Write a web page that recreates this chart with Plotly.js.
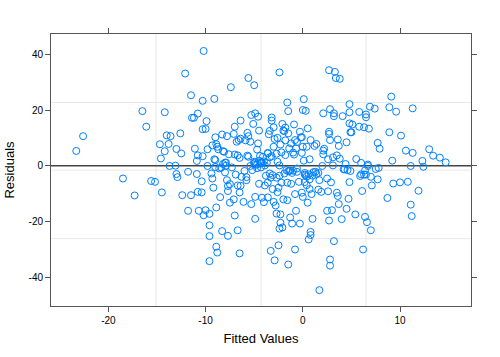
<!DOCTYPE html>
<html>
<head>
<meta charset="utf-8">
<script src="https://cdn.plot.ly/plotly-3.0.1.min.js"></script>
<style>html,body{margin:0;padding:0;background:#fff;}#chart{width:500px;height:357px;}</style>
</head>
<body>
<div id="chart"></div>
<script>
// Fitted values (x) and residuals (y)
const fitted = [
-23.3,-22.6,-18.5,-17.3,-16.5,-16.1,-15.6,-15.2,-14.7,-14.6,-14.5,-14.2,-14.2,-14.0,-13.8,-13.7,-13.6,-13.1,-13.0,-12.9,
-13.0,-12.6,-12.5,-12.4,-12.1,-11.8,-11.8,-11.5,-11.5,-11.4,-11.2,-11.1,-10.9,-10.9,-10.8,-10.8,-10.8,-10.7,-10.4,-10.4,
-10.3,-10.3,-10.3,-10.2,-10.2,-10.0,-10.0,-9.9,-9.8,-9.8,-9.6,-9.6,-9.6,-9.6,-9.4,-9.3,-9.3,-9.2,-9.1,-9.1,
-9.0,-9.0,-9.0,-8.9,-8.9,-8.9,-8.8,-8.8,-8.7,-8.6,-8.5,-8.4,-8.3,-8.3,-8.2,-8.2,-8.1,-8.0,-8.0,-7.9,
-7.9,-7.8,-7.8,-7.7,-7.7,-7.7,-7.6,-7.5,-7.5,-7.4,-7.1,-7.1,-7.0,-7.0,-7.0,-6.9,-6.8,-6.7,-6.7,-6.7,
-6.6,-6.5,-6.5,-6.5,-6.4,-6.4,-6.4,-6.3,-6.1,-6.0,-5.9,-5.8,-5.8,-5.7,-5.7,-5.6,-5.6,-5.6,-5.4,-5.4,
-5.3,-5.3,-5.2,-5.1,-5.0,-5.0,-4.9,-4.9,-4.9,-4.9,-4.7,-4.7,-4.6,-4.6,-4.5,-4.5,-4.4,-4.3,-4.3,-4.2,
-4.2,-4.1,-4.0,-3.9,-3.8,-3.6,-3.6,-3.6,-3.5,-3.4,-3.4,-3.3,-3.3,-3.2,-3.2,-3.2,-3.1,-3.1,-3.0,-3.0,
-3.0,-2.9,-2.9,-2.8,-2.7,-2.7,-2.7,-2.6,-2.6,-2.6,-2.5,-2.5,-2.4,-2.4,-2.4,-2.4,-2.3,-2.3,-2.3,-2.2,
-2.2,-2.1,-2.1,-2.0,-2.0,-1.9,-1.9,-1.8,-1.8,-1.8,-1.7,-1.6,-1.6,-1.6,-1.5,-1.5,-1.5,-1.4,-1.4,-1.3,
-1.3,-1.2,-1.2,-1.1,-1.1,-1.0,-1.0,-0.9,-0.9,-0.8,-0.8,-0.8,-0.7,-0.7,-0.6,-0.6,-0.4,-0.3,-0.3,-0.2,
-0.1,-0.1,-0.1,0.0,0.0,0.0,0.1,0.1,0.2,0.2,0.3,0.3,0.4,0.4,0.5,0.5,0.6,0.7,0.7,0.7,
0.8,0.8,0.8,0.9,1.0,1.0,1.1,1.2,1.3,1.4,1.6,1.7,1.7,1.9,2.0,2.1,2.1,2.1,2.2,2.5,
2.5,2.6,2.6,2.7,2.7,2.7,2.7,2.8,2.8,2.8,2.8,2.9,3.0,3.1,3.1,3.2,3.2,3.2,3.3,3.4,
3.5,3.5,3.6,3.6,3.7,3.7,3.8,3.8,4.0,4.1,4.2,4.3,4.4,4.5,4.5,4.6,4.7,4.8,4.8,4.8,
4.8,4.9,4.9,5.0,5.1,5.5,5.4,5.8,5.8,5.9,6.0,6.0,6.1,6.2,6.3,6.3,6.4,6.4,6.5,6.5,
6.5,6.6,6.7,6.7,6.8,6.9,7.0,7.0,7.1,7.4,7.5,7.7,7.7,7.8,7.9,8.7,8.9,8.9,9.1,9.2,
9.3,9.6,10.0,10.1,10.6,10.8,11.1,11.1,11.2,11.3,11.3,11.9,12.3,12.4,13.0,13.4,14.1,14.7,
-5.0,-4.5,-4.3,-4.0,-3.9,-3.7,-4.7,-4.9,0.2,0.4,0.6,1.4,-7.3,-3.6,-3.4,-1.5,-0.6,1.6
];
const residuals = [
5.3,10.6,-4.6,-10.7,19.6,14.0,-5.5,-5.8,7.7,2.6,-9.6,5.2,19.2,10.9,7.8,-0.1,10.6,0.0,-3.0,-4.1,
6.0,11.6,4.4,-10.6,33.1,-2.2,-16.2,-10.6,25.3,17.2,17.2,6.1,1.7,-3.0,3.7,-9.4,18.7,-16.2,-5.6,-9.6,
3.4,13.1,23.3,41.2,-17.8,-16.0,13.2,16.0,5.9,-0.1,-21.4,-17.3,-25.3,-34.3,-2.8,7.3,-4.6,-7.9,2.3,24.0,
10.2,-0.5,2.0,7.7,-15.0,-29.1,6.8,-31.2,5.9,-1.0,-11.3,-0.7,-23.5,11.2,5.2,0.6,5.0,1.1,-2.4,1.1,
0.0,10.6,-5.2,-9.1,-25.2,-7.3,4.1,-6.6,-13.3,28.2,11.4,-12.1,14.0,-17.9,4.0,-3.2,8.6,-7.1,-23.2,3.7,
9.2,2.8,-9.6,-31.5,-7.2,9.7,16.2,-4.0,-13.0,-1.9,9.1,-5.2,-4.1,3.6,11.8,3.2,10.6,31.5,8.6,-0.1,
18.2,-13.8,-1.6,15.0,0.8,28.9,18.8,-11.2,-19.1,1.2,5.8,0.4,8.0,17.6,-6.5,12.6,3.5,1.2,-0.6,-11.5,
1.1,3.2,-13.1,-7.1,-3.6,4.6,-11.4,-6.1,11.3,12.5,-2.8,-4.3,-30.6,17.3,16.2,3.4,-8.4,-3.4,6.8,-13.0,
13.8,-34.0,9.6,-14.3,4.3,-4.3,-17.2,10.0,1.4,-9.5,-7.9,-28.6,33.5,-22.6,0.1,-3.6,-20.5,-17.5,7.6,-6.1,
4.8,-22.2,15.0,12.6,-12.1,12.4,-2.8,3.8,13.7,9.1,-1.6,-6.1,22.7,-12.4,11.6,19.6,-35.5,6.2,-1.8,-18.6,
-1.8,-6.5,8.0,-2.6,-20.8,-1.8,4.7,4.0,14.8,-30.1,-10.2,9.2,-16.2,6.2,8.5,-2.2,-5.8,-20.8,12.2,10.2,
4.6,-9.7,10.2,20.0,-11.2,6.8,1.8,23.9,-3.2,-5.9,-3.4,19.7,-7.0,6.8,-13.3,13.4,-26.5,-4.9,2.3,-8.4,
-24.9,9.2,-23.8,-10.2,-3.6,-19.1,-2.3,7.1,-2.2,7.8,-8.6,-44.7,-5.2,-9.4,-0.1,4.1,18.8,5.4,6.1,-4.6,
-16.2,-9.2,2.3,34.3,12.2,-19.7,11.4,20.3,-33.7,9.2,-35.9,-6.0,-16.0,0.1,3.0,-27.1,18.8,17.8,33.7,31.5,
3.7,-9.7,-10.9,9.4,-13.8,7.1,31.2,2.5,-19.2,17.8,-1.3,-1.3,0.6,-15.5,8.4,-1.6,-11.9,15.2,-5.9,22.1,
19.2,-1.9,12.0,12.0,14.8,2.4,-17.5,19.3,14.0,-3.7,-3.1,1.0,-9.1,-30.1,-3.2,13.8,-18.4,-1.7,18.4,17.4,
-3.2,-20.3,-0.1,0.4,13.3,21.2,-4.0,-23.2,-7.1,20.5,-1.2,8.2,-4.9,-0.8,6.1,-11.6,12.0,21.0,24.8,1.8,
-6.4,19.4,-6.0,10.8,5.4,-5.8,-14.0,-0.1,-18.1,4.6,20.6,-9.0,1.7,-0.4,5.9,3.6,2.9,1.2,
1.4,1.8,0.9,1.5,0.1,1.0,-0.9,0.3,-2.6,-3.9,-3.1,-3.0,-0.6,4.4,3.0,-2.0,-1.0,-2.6
];
// Light reference lines and axis ticks
const refX = [-15.1, -4.3, 6.5];
const refY = [22.7, -1.6, -26.2];
const xTicks = [-20, -10, 0, 10];
const yTicks = [-40, -20, 0, 20, 40];

const shapes = [];
refX.forEach(v => shapes.push({type:'line', xref:'x', yref:'paper', x0:v, x1:v, y0:0, y1:1, line:{color:'#e8e8e8', width:1}, layer:'below'}));
refY.forEach(v => shapes.push({type:'line', xref:'paper', yref:'y', x0:0, x1:1, y0:v, y1:v, line:{color:'#e8e8e8', width:1}, layer:'below'}));
shapes.push({type:'line', xref:'paper', yref:'y', x0:0, x1:1, y0:0, y1:0, line:{color:'#444444', width:1.5}, layer:'below'});

const trace = {
  x: fitted, y: residuals, type:'scatter', mode:'markers',
  marker:{symbol:'circle-open', size:7, color:'#0080ff', line:{width:1, color:'#0080ff'}},
  hoverinfo:'skip'
};
const axisCommon = {
  showgrid:false, zeroline:false, showline:true, mirror:'ticks', linecolor:'#555', linewidth:1,
  ticks:'outside', ticklen:5, tickcolor:'#555', tickwidth:1,
  tickfont:{family:'Liberation Sans, Arial, sans-serif', size:10, color:'#000'}
};
const layout = {
  width:500, height:357,
  margin:{l:51, r:29, t:34, b:51},
  paper_bgcolor:'#fff', plot_bgcolor:'#fff',
  showlegend:false,
  xaxis: Object.assign({}, axisCommon, {range:[-25.9,17.3], tickvals:xTicks, ticktext:xTicks.map(String),
    title:{text:'Fitted Values', standoff:8, font:{family:'Liberation Sans, Arial, sans-serif', size:13, color:'#000'}}}),
  yaxis: Object.assign({}, axisCommon, {range:[-50.4,47.3], tickvals:yTicks, ticktext:yTicks.map(String),
    title:{text:'Residuals', standoff:10, font:{family:'Liberation Sans, Arial, sans-serif', size:13, color:'#000'}}}),
  shapes: shapes
};
Plotly.newPlot('chart', [trace], layout, {displayModeBar:false, staticPlot:true});
</script>
</body>
</html>
